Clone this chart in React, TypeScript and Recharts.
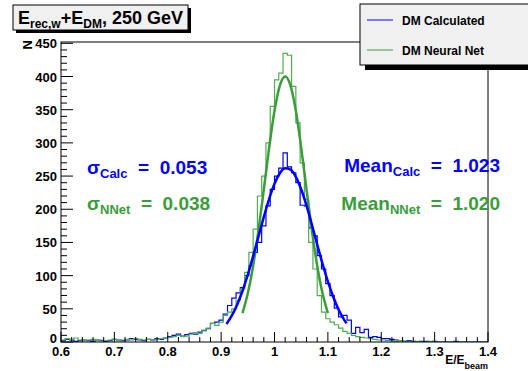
import { ComposedChart, Line, XAxis, YAxis } from "recharts";

const binStart = 0.6;
const binWidth = 0.008;

// DM Calculated histogram, 100 bins from 0.6 to 1.4
const calcCounts = [
  2, 4, 3, 1, 2, 3, 2, 1, 3, 2,
  1, 2, 4, 3, 2, 3, 5, 4, 3, 2,
  4, 3, 5, 4, 6, 8, 10, 12, 9, 11,
  13, 12, 15, 17, 20, 28, 30, 33, 42, 55,
  66, 74, 82, 100, 115, 135, 150, 175, 205, 230,
  250, 262, 285, 264, 255, 240, 206, 205, 172, 160,
  130, 110, 88, 70, 51, 38, 40, 33, 13, 22,
  14, 19, 7, 8, 7, 5, 5, 4, 3, 2,
  1, 2, 1, 0, 1, 1, 0, 1, 0, 0,
  0, 0, 1, 0, 0, 0, 0, 0, 0, 0,
];

// DM Neural Net histogram
const nnetCounts = [
  3, 5, 4, 6, 3, 2, 3, 4, 2, 3,
  2, 3, 4, 2, 3, 4, 3, 5, 4, 3,
  4, 3, 4, 5, 6, 7, 8, 10, 8, 9,
  12, 14, 13, 18, 21, 28, 25, 30, 40, 45,
  50, 63, 80, 105, 135, 170, 220, 250, 300, 355,
  395, 405, 435, 432, 385, 330, 270, 215, 150, 110,
  70, 45, 35, 30, 26, 21, 16, 13, 10, 8,
  7, 6, 5, 4, 3, 3, 2, 2, 1, 2,
  1, 1, 0, 1, 0, 0, 1, 0, 0, 0,
  0, 0, 0, 0, 0, 0, 0, 0, 0, 0,
];

// fit curves
const calcFitX = [0.91, 0.92, 0.93, 0.94, 0.95, 0.96, 0.97, 0.98, 0.99, 1.0, 1.01, 1.02, 1.03, 1.04, 1.05, 1.06, 1.07, 1.08, 1.09, 1.1, 1.11, 1.12, 1.13, 1.135];
const calcFitY = [27, 39.6, 56.2, 76.9, 101.5, 129.3, 158.9, 188.5, 215.8, 238.5, 254.2, 261.6, 259.7, 248.9, 230.1, 205.4, 176.8, 146.9, 117.8, 91.2, 68.1, 49.1, 34.1, 28.1];
const nnetFitX = [0.94, 0.95, 0.96, 0.97, 0.98, 0.99, 1.0, 1.01, 1.02, 1.03, 1.04, 1.05, 1.06, 1.07, 1.08, 1.09, 1.1];
const nnetFitY = [43.6, 73.3, 115, 168.3, 229.9, 292.9, 348.3, 386.4, 400, 386.4, 348.3, 292.9, 229.9, 168.3, 115, 73.3, 43.6];

const xTickLabels = [0.6, 0.7, 0.8, 0.9, 1, 1.1, 1.2, 1.3, 1.4];
const yTickLabels = [0, 50, 100, 150, 200, 250, 300, 350, 400, 450];

const BLUE = "#0000ff";
const GREEN = "#3a9d3a";
const HGREEN = "#4fae4f";
const FONT = "'Liberation Sans', Arial, Helvetica, sans-serif";

const steps = (counts: number[]) => [
  ...counts.map((v, i) => ({ x: +(binStart + i * binWidth).toFixed(3), y: v })),
  { x: 1.4, y: counts[counts.length - 1] },
];
const zip = (xs: number[], ys: number[]) => xs.map((x, i) => ({ x, y: ys[i] }));

const xTicks = Array.from({ length: 41 }, (_, i) => +(0.6 + i * 0.02).toFixed(2));
const yTicks = Array.from({ length: 46 }, (_, i) => i * 10);

const L = 61;
const R = 488;
const T = 42;
const B = 342;

const YTick = (props: any) => {
  const { y, payload } = props;
  const v = payload.value;
  const major = yTickLabels.includes(v);
  return (
    <g>
      <line x1={L} x2={L + (major ? 12 : 6)} y1={y} y2={y} stroke="#000" />
      {major && (
        <text x={57} y={v === 0 ? y + 1 : y + 5} textAnchor="end" fontSize={13} fontWeight="bold" fontFamily={FONT} fill="#000">
          {v}
        </text>
      )}
    </g>
  );
};

const XTick = (props: any) => {
  const { x, payload } = props;
  const v = payload.value;
  const major = xTickLabels.some((t) => Math.abs(t - v) < 1e-6);
  return (
    <g>
      <line x1={x} x2={x} y1={B} y2={B - (major ? 10 : 5)} stroke="#000" />
      {major && (
        <text x={x} y={356} textAnchor="middle" fontSize={13} fontWeight="bold" fontFamily={FONT} fill="#000">
          {Math.abs(v - 1) < 1e-6 ? "1" : v.toFixed(1)}
        </text>
      )}
    </g>
  );
};

const pre = { whiteSpace: "pre" } as const;

export default function App() {
  return (
    <div style={{ position: "absolute", left: 0, top: 0, width: 528, height: 371, background: "#fff" }}>
      <ComposedChart width={528} height={371} margin={{ top: T, right: 528 - R, bottom: 0, left: 0 }}>
        <XAxis
          dataKey="x"
          type="number"
          domain={[0.6, 1.4]}
          ticks={xTicks}
          interval={0}
          tick={XTick}
          tickLine={false}
          axisLine={false}
          height={371 - B}
          allowDataOverflow
        />
        <YAxis
          type="number"
          domain={[0, 452]}
          ticks={yTicks}
          interval={0}
          tick={YTick}
          tickLine={false}
          axisLine={false}
          width={L}
          allowDataOverflow
        />
        <Line data={steps(calcCounts)} dataKey="y" type="stepAfter" stroke={BLUE} strokeWidth={1.2} dot={false} isAnimationActive={false} />
        <Line data={steps(nnetCounts)} dataKey="y" type="stepAfter" stroke={HGREEN} strokeWidth={1.2} dot={false} isAnimationActive={false} />
        <Line data={zip(nnetFitX, nnetFitY)} dataKey="y" type="monotone" stroke={GREEN} strokeWidth={2.5} dot={false} isAnimationActive={false} />
        <Line data={zip(calcFitX, calcFitY)} dataKey="y" type="monotone" stroke={BLUE} strokeWidth={2.5} dot={false} isAnimationActive={false} />
      </ComposedChart>
      <svg width={528} height={371} style={{ position: "absolute", left: 0, top: 0, pointerEvents: "none" }} fontFamily={FONT} fontWeight="bold">
        <rect x={L} y={T} width={R - L} height={B - T} fill="none" stroke="#000" />
        {/* title */}
        <rect x={16} y={8} width={175} height={25} fill="#000" />
        <rect x={13} y={5} width={175} height={25} fill="#f0f0f0" stroke="#000" />
        <text x={18} y={24} fontSize={18}>
          E<tspan fontSize={12} dy={4}>rec,w</tspan>
          <tspan dy={-4}>+E</tspan>
          <tspan fontSize={12} dy={4}>DM</tspan>
          <tspan dy={-4}>, 250 GeV</tspan>
        </text>
        {/* legend */}
        <rect x={365} y={9} width={170} height={61} fill="#000" />
        <rect x={360} y={4} width={170} height={61} fill="#f0f0f0" stroke="#000" />
        <line x1={367} x2={393} y1={20} y2={20} stroke={BLUE} />
        <text x={402} y={25} fontSize={12}>DM Calculated</text>
        <line x1={367} x2={393} y1={50} y2={50} stroke={GREEN} />
        <text x={402} y={55} fontSize={12}>DM Neural Net</text>
        {/* axis titles */}
        <text transform="translate(32,40) rotate(-90)" textAnchor="end" fontSize={13}>N</text>
        <text x={488} y={364} textAnchor="end" fontSize={12}>
          E/E<tspan fontSize={9} dy={5}>beam</tspan>
        </text>
        {/* stats */}
        <text x={87} y={174} fontSize={19} fill={BLUE} style={pre}>
          σ<tspan fontSize={13} dy={4}>Calc</tspan>
          <tspan dy={-4}>{"  =  0.053"}</tspan>
        </text>
        <text x={87} y={210} fontSize={19} fill={GREEN} style={pre}>
          σ<tspan fontSize={13} dy={4}>NNet</tspan>
          <tspan dy={-4}>{"  =  0.038"}</tspan>
        </text>
        <text x={500} y={172} fontSize={19} fill={BLUE} textAnchor="end" style={pre}>
          Mean<tspan fontSize={13} dy={4}>Calc</tspan>
          <tspan dy={-4}>{"  =  1.023"}</tspan>
        </text>
        <text x={500} y={210} fontSize={19} fill={GREEN} textAnchor="end" style={pre}>
          Mean<tspan fontSize={13} dy={4}>NNet</tspan>
          <tspan dy={-4}>{"  =  1.020"}</tspan>
        </text>
      </svg>
    </div>
  );
}
